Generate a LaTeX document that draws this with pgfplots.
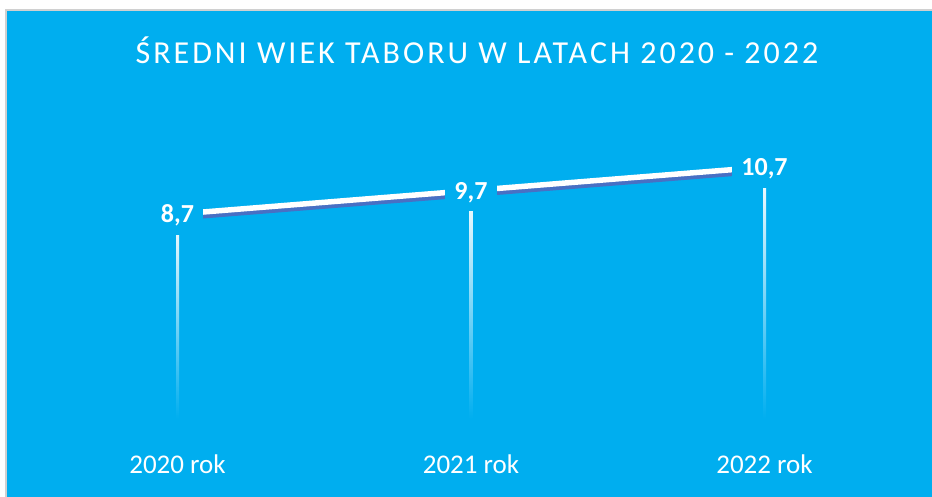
\documentclass[border=0pt]{standalone}
\usepackage{pgfplots}
\pgfplotsset{compat=1.18}
\usepackage{fontspec}
\setmainfont{Carlito}
\newfontfamily\titlefont[LetterSpace=9.4]{Carlito}
\definecolor{bgcyan}{RGB}{0,174,239}
\definecolor{shadowblue}{RGB}{72,112,196}
\definecolor{frame}{RGB}{208,208,208}
\begin{document}
\begin{tikzpicture}[x=1pt,y=1pt]
\useasboundingbox (0,0) rectangle (932,497);
\fill[white] (0,0) rectangle (932,497);
\fill[frame] (5,0) rectangle (932,488);
\fill[bgcyan] (7,0) rectangle (932,486);
\node[anchor=base, text=white, font=\titlefont\fontsize{32}{38}\selectfont] at (477,433) {ŚREDNI WIEK TABORU W LATACH 2020 - 2022};
\begin{axis}[
  at={(0,0)}, anchor=south west,
  width=932pt, height=497pt, scale only axis,
  xmin=-0.6048, xmax=2.5707, ymin=-3.340, ymax=17.809,
  hide axis, clip=false,
]
\addplot[ybar, bar width=3pt, bar shift=0pt, draw=none, top color=white, middle color=white!55!bgcyan, bottom color=bgcyan] coordinates {(0,8.7)};
\addplot[ybar, bar width=3pt, bar shift=0pt, draw=none, top color=white, middle color=white!55!bgcyan, bottom color=bgcyan] coordinates {(1,9.7)};
\addplot[ybar, bar width=3pt, bar shift=0pt, draw=none, top color=white, middle color=white!55!bgcyan, bottom color=bgcyan] coordinates {(2,10.7)};
\addplot[shadowblue, line width=5pt, yshift=-4pt, mark=none] coordinates {(0,8.7) (1,9.7) (2,10.7)};
\addplot[white, line width=5.5pt, mark=none,
  nodes near coords, point meta=explicit symbolic,
  every node near coord/.style={anchor=center, fill=bgcyan, text=white,
    font=\bfseries\fontsize{26}{30}\selectfont, inner xsep=9pt, inner ysep=12pt,
    text height=17pt, text depth=0pt}]
  coordinates {(0,8.7) [8,7] (1,9.7) [9,7] (2,10.7) [10,7]};
\addplot[draw=none, mark=none,
  nodes near coords, point meta=explicit symbolic,
  every node near coord/.style={anchor=center, text=white,
    font=\fontsize{27}{32}\selectfont}]
  coordinates {(0,-1.936) [2020 rok] (1,-1.936) [2021 rok] (2,-1.936) [2022 rok]};
\end{axis}
\end{tikzpicture}
\end{document}
